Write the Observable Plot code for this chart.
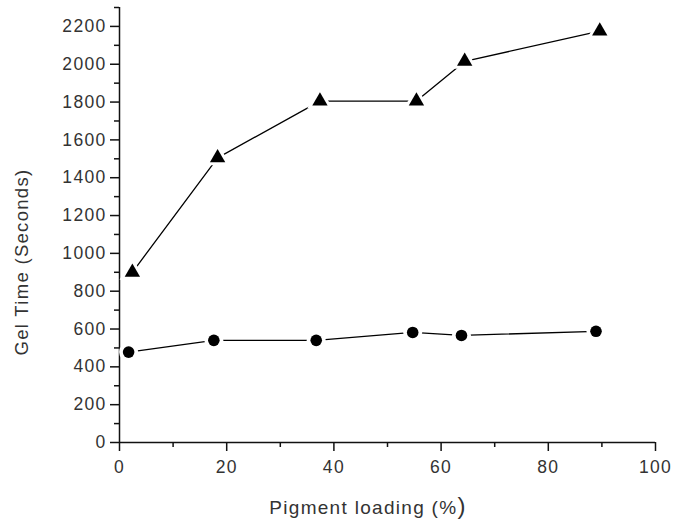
<!DOCTYPE html>
<html>
<head>
<meta charset="utf-8">
<script src="https://cdn.jsdelivr.net/npm/d3@7"></script>
<script src="https://cdn.jsdelivr.net/npm/@observablehq/plot@0.6"></script>
<style>
  html, body { margin: 0; padding: 0; background: #fff; }
  #chart svg text { letter-spacing: 1.3px; }
</style>
</head>
<body>
<div id="chart"></div>
<script>
// Series: triangles (upper) and circles (lower)
const triLoading = [2.4, 18.3, 37.4, 55.4, 64.4, 89.6];
const triGel     = [900, 1505, 1805, 1805, 2015, 2175];
const cirLoading = [1.7, 17.6, 36.7, 54.7, 63.8, 88.9];
const cirGel     = [478, 540, 540, 582, 566, 588];

const xMajor = [0, 20, 40, 60, 80, 100];
const xMinor = [10, 30, 50, 70, 90];
const yMajor = [0, 200, 400, 600, 800, 1000, 1200, 1400, 1600, 1800, 2000, 2200];
const yMinor = [100, 300, 500, 700, 900, 1100, 1300, 1500, 1700, 1900, 2100, 2300];

const xTitle = "Pigment loading (%";
const xTitleEnd = ")";
const yTitle = "Gel Time (Seconds)";

const tri = triLoading.map((x, i) => ({x, y: triGel[i]}));
const cir = cirLoading.map((x, i) => ({x, y: cirGel[i]}));

const W = 675, H = 527;
const plot = Plot.plot({
  width: W,
  height: H,
  marginLeft: 119,
  marginRight: 20,
  marginTop: 7,
  marginBottom: 85,
  style: {fontFamily: "'Liberation Sans', Arial, sans-serif", fontSize: "17.5px", color: "#333", background: "#fff"},
  x: {domain: [0, 100]},
  y: {domain: [0, 2300]},
  marks: [
    Plot.ruleX([0], {y1: 0, y2: 2300, stroke: "#111", strokeWidth: 1.5}),
    Plot.ruleY([0], {x1: 0, x2: 100, stroke: "#111", strokeWidth: 1.5}),
    Plot.axisY(yMajor, {tickSize: 9, tickPadding: 4, stroke: "#111", strokeWidth: 1.5, label: null, fill: "#333", tickFormat: d => String(d)}),
    Plot.axisY(yMinor, {tickSize: 5, tickFormat: () => "", stroke: "#111", strokeWidth: 1.5, label: null}),
    Plot.axisX(xMajor, {tickSize: 9, tickPadding: 9, stroke: "#111", strokeWidth: 1.5, label: null, fill: "#333", tickFormat: d => String(d)}),
    Plot.axisX(xMinor, {tickSize: 5, tickFormat: () => "", stroke: "#111", strokeWidth: 1.5, label: null}),
    Plot.line(tri, {x: "x", y: "y", stroke: "#000", strokeWidth: 1.3}),
    Plot.line(cir, {x: "x", y: "y", stroke: "#000", strokeWidth: 1.3}),
    Plot.dot(tri, {x: "x", y: "y", symbol: "triangle", r: 9.5, fill: "#fff", stroke: "none"}),
    Plot.dot(cir, {x: "x", y: "y", symbol: "circle", r: 9.5, fill: "#fff", stroke: "none"}),
    Plot.dot(tri, {x: "x", y: "y", symbol: "triangle", r: 5.7, fill: "#000", stroke: "none"}),
    Plot.dot(cir, {x: "x", y: "y", symbol: "circle", r: 5.8, fill: "#000", stroke: "none"})
  ]
});
document.getElementById("chart").appendChild(plot);

const svg = d3.select(plot);
const xt = svg.append("text")
  .attr("x", 368).attr("y", 514)
  .attr("text-anchor", "middle")
  .attr("fill", "#333")
  .style("font-size", "19px");
xt.append("tspan").text(xTitle);
xt.append("tspan").style("font-size", "24px").text(xTitleEnd);

svg.append("text")
  .attr("transform", "translate(28,262) rotate(-90)")
  .attr("text-anchor", "middle")
  .attr("fill", "#333")
  .style("font-size", "18.5px")
  .text(yTitle);
</script>
</body>
</html>
